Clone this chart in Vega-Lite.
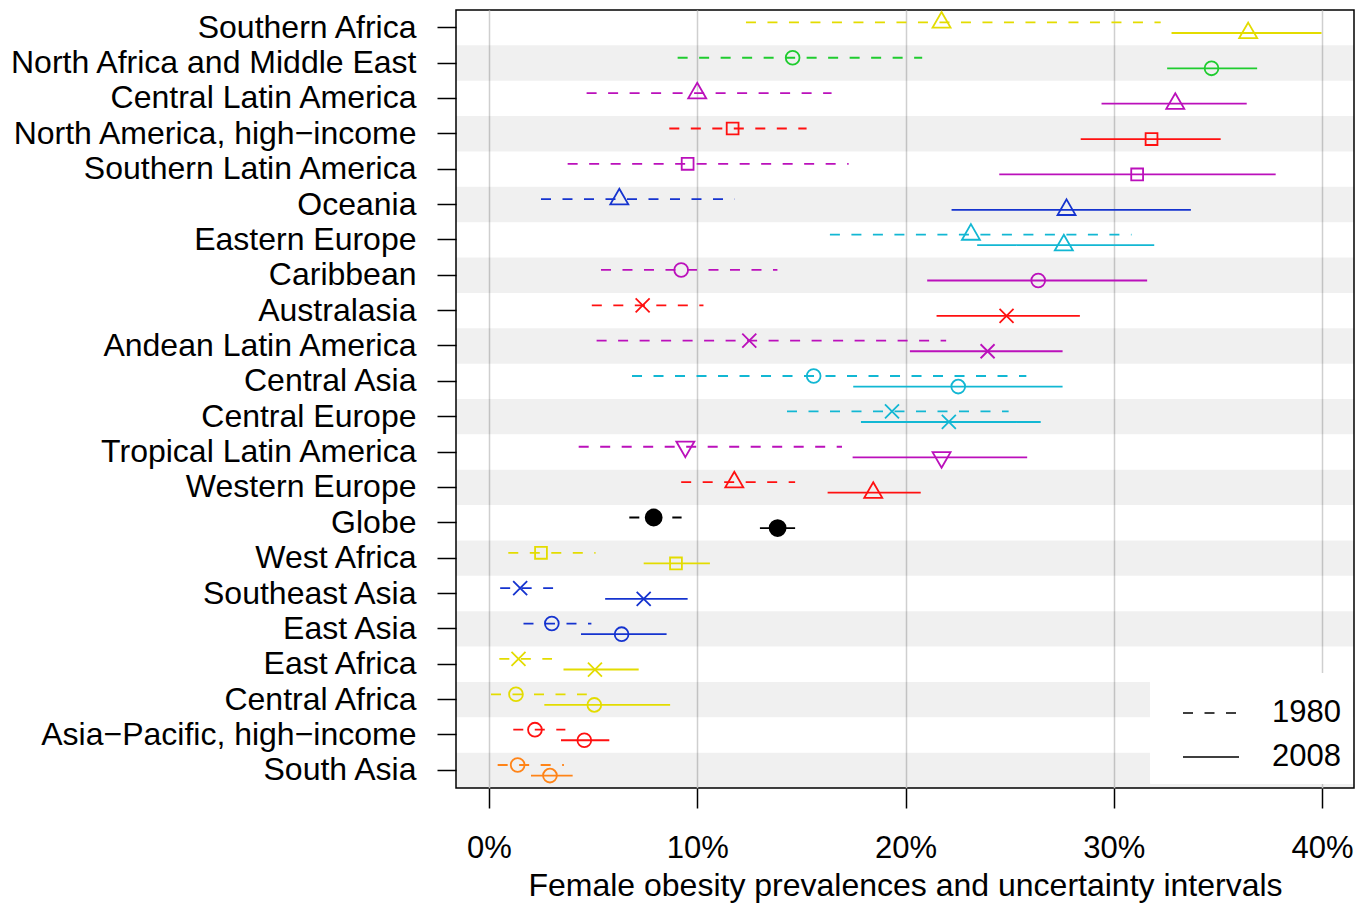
{
  "$schema": "https://vega.github.io/schema/vega-lite/v6.json",
  "width": 898,
  "height": 778,
  "autosize": {"type": "none"},
  "padding": {"left": 456, "top": 10, "right": 17, "bottom": 118},
  "background": "white",
  "config": {
    "font": "Liberation Sans",
    "view": {"stroke": "black", "strokeWidth": 1.5},
    "axisX": {"grid": true, "gridColor": "#CFCFCF", "gridWidth": 1.5, "domain": false, "tickColor": "black", "tickSize": 20, "tickWidth": 1.5, "labelFontSize": 31, "labelColor": "black", "labelPadding": 25, "labelFlush": false, "titleFontSize": 32, "titleFontWeight": "normal", "titleColor": "black", "titlePadding": 7},
    "axisY": {"domain": false, "grid": false, "tickColor": "black", "tickSize": 19, "tickWidth": 1.5, "labelFontSize": 32, "labelColor": "black", "labelPadding": 21, "labelLimit": 0}
  },
  "datasets": {
    "bands": [
      {"region": "North Africa and Middle East"},
      {"region": "North America, high−income"},
      {"region": "Oceania"},
      {"region": "Caribbean"},
      {"region": "Andean Latin America"},
      {"region": "Central Europe"},
      {"region": "Western Europe"},
      {"region": "West Africa"},
      {"region": "East Asia"},
      {"region": "Central Africa"},
      {"region": "South Asia"}
    ],
    "estimates": [
      {"region": "Southern Africa", "superregion": "Sub-Saharan Africa", "year": "1980", "lo": 12.34, "mid": 21.73, "hi": 32.25},
      {"region": "Southern Africa", "superregion": "Sub-Saharan Africa", "year": "2008", "lo": 32.77, "mid": 36.45, "hi": 39.97},
      {"region": "North Africa and Middle East", "superregion": "North Africa and Middle East", "year": "1980", "lo": 9.06, "mid": 14.58, "hi": 20.8},
      {"region": "North Africa and Middle East", "superregion": "North Africa and Middle East", "year": "2008", "lo": 32.56, "mid": 34.69, "hi": 36.88},
      {"region": "Central Latin America", "superregion": "Latin America and Caribbean", "year": "1980", "lo": 4.69, "mid": 10.0, "hi": 16.45},
      {"region": "Central Latin America", "superregion": "Latin America and Caribbean", "year": "2008", "lo": 29.41, "mid": 32.95, "hi": 36.38},
      {"region": "North America, high−income", "superregion": "High-income", "year": "1980", "lo": 8.66, "mid": 11.7, "hi": 15.25},
      {"region": "North America, high−income", "superregion": "High-income", "year": "2008", "lo": 28.41, "mid": 31.81, "hi": 35.13},
      {"region": "Southern Latin America", "superregion": "Latin America and Caribbean", "year": "1980", "lo": 3.78, "mid": 9.54, "hi": 17.27},
      {"region": "Southern Latin America", "superregion": "Latin America and Caribbean", "year": "2008", "lo": 24.5, "mid": 31.12, "hi": 37.77},
      {"region": "Oceania", "superregion": "Southeast Asia, East Asia and Oceania", "year": "1980", "lo": 2.5, "mid": 6.26, "hi": 11.8},
      {"region": "Oceania", "superregion": "Southeast Asia, East Asia and Oceania", "year": "2008", "lo": 22.21, "mid": 27.73, "hi": 33.7},
      {"region": "Eastern Europe", "superregion": "Central Europe, Eastern Europe and Central Asia", "year": "1980", "lo": 16.37, "mid": 23.14, "hi": 30.85},
      {"region": "Eastern Europe", "superregion": "Central Europe, Eastern Europe and Central Asia", "year": "2008", "lo": 23.44, "mid": 27.6, "hi": 31.94},
      {"region": "Caribbean", "superregion": "Latin America and Caribbean", "year": "1980", "lo": 5.38, "mid": 9.23, "hi": 13.85},
      {"region": "Caribbean", "superregion": "Latin America and Caribbean", "year": "2008", "lo": 21.04, "mid": 26.37, "hi": 31.6},
      {"region": "Australasia", "superregion": "High-income", "year": "1980", "lo": 4.94, "mid": 7.38, "hi": 10.3},
      {"region": "Australasia", "superregion": "High-income", "year": "2008", "lo": 21.49, "mid": 24.85, "hi": 28.37},
      {"region": "Andean Latin America", "superregion": "Latin America and Caribbean", "year": "1980", "lo": 5.17, "mid": 12.5, "hi": 21.95},
      {"region": "Andean Latin America", "superregion": "Latin America and Caribbean", "year": "2008", "lo": 20.21, "mid": 23.94, "hi": 27.54},
      {"region": "Central Asia", "superregion": "Central Europe, Eastern Europe and Central Asia", "year": "1980", "lo": 6.87, "mid": 15.59, "hi": 25.8},
      {"region": "Central Asia", "superregion": "Central Europe, Eastern Europe and Central Asia", "year": "2008", "lo": 17.49, "mid": 22.53, "hi": 27.54},
      {"region": "Central Europe", "superregion": "Central Europe, Eastern Europe and Central Asia", "year": "1980", "lo": 14.31, "mid": 19.35, "hi": 24.95},
      {"region": "Central Europe", "superregion": "Central Europe, Eastern Europe and Central Asia", "year": "2008", "lo": 17.86, "mid": 22.08, "hi": 26.49},
      {"region": "Tropical Latin America", "superregion": "Latin America and Caribbean", "year": "1980", "lo": 4.31, "mid": 9.43, "hi": 16.95},
      {"region": "Tropical Latin America", "superregion": "Latin America and Caribbean", "year": "2008", "lo": 17.46, "mid": 21.73, "hi": 25.84},
      {"region": "Western Europe", "superregion": "High-income", "year": "1980", "lo": 9.23, "mid": 11.78, "hi": 14.7},
      {"region": "Western Europe", "superregion": "High-income", "year": "2008", "lo": 16.26, "mid": 18.45, "hi": 20.73},
      {"region": "Globe", "superregion": "Global", "year": "1980", "lo": 6.74, "mid": 7.91, "hi": 9.25},
      {"region": "Globe", "superregion": "Global", "year": "2008", "lo": 13.01, "mid": 13.86, "hi": 14.7},
      {"region": "West Africa", "superregion": "Sub-Saharan Africa", "year": "1980", "lo": 0.93, "mid": 2.5, "hi": 5.12},
      {"region": "West Africa", "superregion": "Sub-Saharan Africa", "year": "2008", "lo": 7.43, "mid": 8.98, "hi": 10.61},
      {"region": "Southeast Asia", "superregion": "Southeast Asia, East Asia and Oceania", "year": "1980", "lo": 0.54, "mid": 1.5, "hi": 3.08},
      {"region": "Southeast Asia", "superregion": "Southeast Asia, East Asia and Oceania", "year": "2008", "lo": 5.58, "mid": 7.43, "hi": 9.54},
      {"region": "East Asia", "superregion": "Southeast Asia, East Asia and Oceania", "year": "1980", "lo": 1.66, "mid": 3.02, "hi": 4.92},
      {"region": "East Asia", "superregion": "Southeast Asia, East Asia and Oceania", "year": "2008", "lo": 4.42, "mid": 6.37, "hi": 8.53},
      {"region": "East Africa", "superregion": "Sub-Saharan Africa", "year": "1980", "lo": 0.5, "mid": 1.42, "hi": 3.03},
      {"region": "East Africa", "superregion": "Sub-Saharan Africa", "year": "2008", "lo": 3.58, "mid": 5.09, "hi": 7.19},
      {"region": "Central Africa", "superregion": "Sub-Saharan Africa", "year": "1980", "lo": 0.1, "mid": 1.3, "hi": 4.7},
      {"region": "Central Africa", "superregion": "Sub-Saharan Africa", "year": "2008", "lo": 2.66, "mid": 5.06, "hi": 8.7},
      {"region": "Asia−Pacific, high−income", "superregion": "High-income", "year": "1980", "lo": 1.17, "mid": 2.21, "hi": 3.67},
      {"region": "Asia−Pacific, high−income", "superregion": "High-income", "year": "2008", "lo": 3.46, "mid": 4.58, "hi": 5.78},
      {"region": "South Asia", "superregion": "South Asia", "year": "1980", "lo": 0.42, "mid": 1.38, "hi": 3.6},
      {"region": "South Asia", "superregion": "South Asia", "year": "2008", "lo": 2.02, "mid": 2.93, "hi": 4.02}
    ]
  },
  "encoding": {
    "y": {
      "field": "region",
      "type": "nominal",
      "scale": {
        "domain": ["Southern Africa", "North Africa and Middle East", "Central Latin America", "North America, high−income", "Southern Latin America", "Oceania", "Eastern Europe", "Caribbean", "Australasia", "Andean Latin America", "Central Asia", "Central Europe", "Tropical Latin America", "Western Europe", "Globe", "West Africa", "Southeast Asia", "East Asia", "East Africa", "Central Africa", "Asia−Pacific, high−income", "South Asia"],
        "paddingInner": 0,
        "paddingOuter": 0
      },
      "axis": {"title": null}
    }
  },
  "layer": [
    {
      "data": {"name": "bands"},
      "mark": {"type": "rect", "fill": "#000000", "fillOpacity": 0.059}
    },
    {
      "data": {"name": "estimates"},
      "mark": {"type": "rule", "strokeWidth": 1.8},
      "encoding": {
        "x": {"field": "lo", "type": "quantitative", "scale": {"domain": [-1.58, 41.53], "nice": false, "zero": false}, "title": "Female obesity prevalences and uncertainty intervals", "axis": {"values": [0, 10, 20, 30, 40], "labelExpr": "datum.value + '%'"}},
        "x2": {"field": "hi"},
        "yOffset": {"field": "year", "type": "nominal", "scale": {"domain": ["1980", "2008"], "paddingInner": 0, "paddingOuter": 0.67}},
        "color": {
          "field": "superregion", "type": "nominal", "legend": null,
          "scale": {
            "domain": ["Sub-Saharan Africa", "North Africa and Middle East", "Latin America and Caribbean", "High-income", "Southeast Asia, East Asia and Oceania", "Central Europe, Eastern Europe and Central Asia", "South Asia", "Global"],
            "range": ["#E3DC00", "#1FCC2F", "#BB10BB", "#FF1010", "#1533CF", "#12B7D3", "#FF8418", "#000000"]
          }
        },
        "strokeDash": {
          "field": "year", "type": "nominal",
          "scale": {"domain": ["1980", "2008"], "range": [[10, 11.5], [1, 0]]},
          "legend": {"orient": "none", "legendX": 694, "legendY": 663, "title": null, "symbolType": "stroke", "symbolSize": 3136, "symbolStrokeColor": "black", "symbolStrokeWidth": 1.5, "labelFontSize": 31, "labelColor": "black", "labelOffset": 32, "rowPadding": -26, "padding": 11, "symbolOffset": 21, "fillColor": "white", "strokeColor": "white", "zindex": 1}
        }
      }
    },
    {
      "data": {"name": "estimates"},
      "mark": {"type": "point", "filled": false, "strokeWidth": 1.8, "opacity": 1},
      "encoding": {
        "x": {"field": "mid", "type": "quantitative", "title": "Female obesity prevalences and uncertainty intervals", "axis": {"values": [0, 10, 20, 30, 40], "labelExpr": "datum.value + '%'"}},
        "yOffset": {"field": "year", "type": "nominal"},
        "color": {"field": "superregion", "type": "nominal", "legend": null},
        "fill": {"condition": {"test": "datum.region === 'Globe'", "value": "black"}, "value": "transparent"},
        "shape": {
          "field": "region", "type": "nominal", "legend": null,
          "scale": {
            "domain": ["Southern Africa", "North Africa and Middle East", "Central Latin America", "North America, high−income", "Southern Latin America", "Oceania", "Eastern Europe", "Caribbean", "Australasia", "Andean Latin America", "Central Asia", "Central Europe", "Tropical Latin America", "Western Europe", "Globe", "West Africa", "Southeast Asia", "East Asia", "East Africa", "Central Africa", "Asia−Pacific, high−income", "South Asia"],
            "range": ["M0,-1.155L1,0.577L-1,0.577Z", "circle", "M0,-1.155L1,0.577L-1,0.577Z", "square", "square", "M0,-1.155L1,0.577L-1,0.577Z", "M0,-1.155L1,0.577L-1,0.577Z", "circle", "M-1,-1L1,1M-1,1L1,-1", "M-1,-1L1,1M-1,1L1,-1", "circle", "M-1,-1L1,1M-1,1L1,-1", "M0,1.155L1,-0.577L-1,-0.577Z", "M0,-1.155L1,0.577L-1,0.577Z", "circle", "square", "M-1,-1L1,1M-1,1L1,-1", "circle", "M-1,-1L1,1M-1,1L1,-1", "circle", "circle", "circle"]
          }
        },
        "size": {
          "field": "region", "type": "nominal", "legend": null,
          "scale": {
            "type": "ordinal",
            "domain": ["Southern Africa", "North Africa and Middle East", "Central Latin America", "North America, high−income", "Southern Latin America", "Oceania", "Eastern Europe", "Caribbean", "Australasia", "Andean Latin America", "Central Asia", "Central Europe", "Tropical Latin America", "Western Europe", "Globe", "West Africa", "Southeast Asia", "East Asia", "East Africa", "Central Africa", "Asia−Pacific, high−income", "South Asia"],
            "range": [324, 190, 324, 140, 140, 324, 324, 190, 196, 196, 190, 196, 324, 324, 256, 140, 196, 190, 196, 190, 190, 190]
          }
        }
      }
    }
  ]
}
